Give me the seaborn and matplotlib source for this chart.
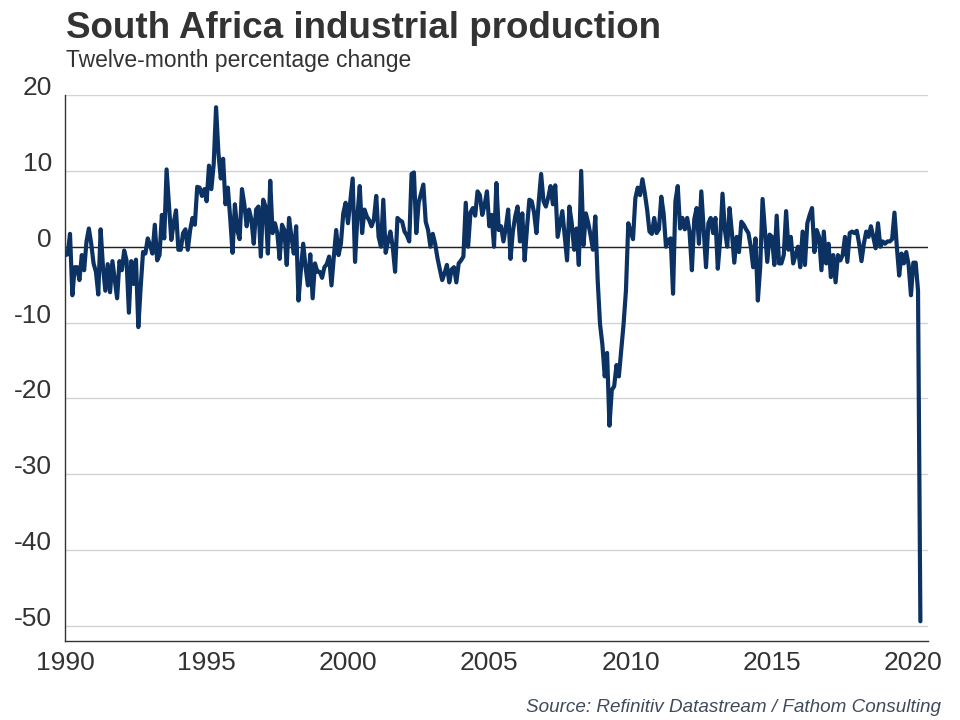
import numpy as np
import pandas as pd
import matplotlib
matplotlib.use("Agg")
import matplotlib.pyplot as plt
from matplotlib.ticker import MultipleLocator, FuncFormatter
import seaborn as sns

# Monthly twelve-month % change, South Africa industrial production
ip_1990s = [
    -1.1, -1.0, 1.7, -6.4, -2.7, -2.7, -4.4, -1.1, -3.1, 0.7, 2.4, 0.4,
    -2.2, -3.3, -6.3, 2.3, -2.7, -5.8, -2.3, -6.0, -1.9, -4.4, -6.8, -1.9,
    -3.1, -0.5, -1.8, -8.7, -1.9, -4.9, -1.7, -10.6, -5.3, -0.7, -0.9, 1.1,
    0.2, -0.9, 2.9, -1.8, -1.1, 4.2, 1.1, 10.2, 5.6, 0.9, 3.1, 4.8,
    -0.4, -0.4, 1.8, 2.3, -0.4, 2.2, 3.8, 2.9, 7.9, 7.8, 6.7, 7.6,
    6.0, 10.7, 7.6, 10.9, 18.4, 12.4, 9.0, 11.6, 5.6, 7.8, 3.8, -0.8,
    5.6, 2.2, 1.0, 7.6, 5.6, 2.7, 4.9, 3.6, 0.4, 4.9, 5.3, -1.3,
    6.2, 5.3, -0.9, 8.7, 1.8, 3.1, 1.8, -1.6, 2.9, 2.2, -2.4, 3.8,
    1.3, -0.9, 2.7, -7.1, -3.1, 0.4, -2.7, -5.1, -1.0, -6.8, -2.2, -3.3,
    -3.3, -4.1, -2.7, -2.3, -1.3, -5.1, -1.3, 2.2, -1.1, 0.4, 4.4, 5.8,
]
ip_2000s = [
    3.1, 6.0, 9.0, -2.0, 4.0, 8.0, 1.8, 4.9, 4.0, 3.5, 2.7, 3.6,
    6.7, 1.3, 0.0, 6.2, -0.8, 0.7, 2.0, 0.0, -3.3, 3.8, 3.5, 3.3,
    2.0, 1.5, 0.7, 9.6, 9.8, 1.8, 5.8, 7.0, 8.2, 3.3, 2.2, 0.0,
    1.7, 0.4, -1.5, -3.0, -4.4, -3.5, -2.4, -4.7, -3.0, -2.7, -4.7, -2.2,
    -1.8, -1.3, 5.8, 0.0, 4.5, 5.1, 4.1, 7.3, 6.8, 4.2, 5.5, 7.3,
    2.7, 4.2, 0.0, 8.4, 2.2, 2.7, 0.7, 2.5, 4.9, -1.6, 2.0, 4.0,
    5.3, 0.7, 4.4, -1.8, 2.5, 6.2, 6.0, 4.5, 1.8, 6.0, 9.6, 6.0,
    5.3, 6.5, 8.0, 5.6, 8.1, 1.3, 3.0, 4.7, 1.5, -1.8, 5.3, 3.1,
    -0.4, 2.4, -2.4, 10.0, 0.2, 4.4, 3.1, 1.5, -0.4, 4.0, -4.4, -10.2,
    -12.9, -17.1, -14.0, -23.6, -18.9, -18.4, -15.6, -17.1, -13.6, -10.2, -5.8, 3.1,
]
ip_2010s = [
    2.0, 1.0, 6.4, 7.8, 6.8, 8.9, 7.1, 4.9, 2.0, 1.7, 3.8, 1.8,
    2.3, 6.6, 4.4, 0.0, 0.9, 1.1, -6.2, 6.0, 8.0, 2.4, 3.8, 2.3,
    3.8, 2.0, -3.1, 3.6, 5.1, 0.4, 7.3, 2.2, -2.7, 3.1, 3.8, 1.8,
    3.8, -2.9, 0.9, 7.0, 2.2, 0.0, 5.1, 1.8, -2.1, 1.3, -0.7, 3.3,
    2.9, 2.3, 1.8, 0.0, -2.7, 1.1, -7.1, -2.7, 6.3, 2.2, -2.0, 1.6,
    1.3, -2.4, 4.1, -2.2, -2.2, -1.1, 4.7, -0.4, 1.3, -2.2, -1.1, 0.0,
    -2.7, 2.0, -2.4, 3.1, 4.2, 5.1, -0.7, 2.2, 1.3, -3.1, 2.0, -2.2,
    0.4, -4.0, -1.1, -4.7, -1.1, -1.8, -1.1, 1.3, -2.0, 1.8, 2.0, 1.8,
    2.1, 0.4, -1.9, 0.4, 2.0, 1.3, 2.7, 1.3, -0.2, 3.1, 0.0, 0.7,
    0.4, 0.7, 0.7, 1.0, 4.5, 0.0, -3.8, -0.9, -2.2, -0.7, -2.4, -6.4,
]
ip_2020 = [-2.1, -2.1, -5.8, -49.4]

values = ip_1990s + ip_2000s + ip_2010s + ip_2020
dates = pd.date_range("1990-01-01", periods=len(values), freq="MS")
df = pd.DataFrame({"date": dates, "value": values})
df["t"] = df["date"].dt.year + (df["date"].dt.month - 1) / 12.0

title = "South Africa industrial production"
subtitle = "Twelve-month percentage change"
source = "Source: Refinitiv Datastream / Fathom Consulting"

sns.set_theme(style="white")
plt.rcParams["font.family"] = ["Liberation Sans", "DejaVu Sans"]

W, H = 960, 720
fig = plt.figure(figsize=(9.6, 7.2), dpi=100)
left, right, top, bottom = 65.3, 928.3, 95.1, 641.0
ax = fig.add_axes([left / W, 1 - bottom / H, (right - left) / W, (bottom - top) / H])

sns.lineplot(data=df, x="t", y="value", ax=ax, color="#0b3262", linewidth=3.0, zorder=3)

ax.set_xlim(1990, 2020.53)
ax.set_ylim(-52, 20)
ax.set_xlabel("")
ax.set_ylabel("")

ax.yaxis.set_major_locator(MultipleLocator(10))
ax.yaxis.set_minor_locator(MultipleLocator(2))
ax.xaxis.set_major_locator(MultipleLocator(5))
ax.xaxis.set_minor_locator(MultipleLocator(1))
ax.xaxis.set_major_formatter(FuncFormatter(lambda v, p: f"{int(round(v))}"))
ax.yaxis.set_major_formatter(FuncFormatter(lambda v, p: f"{int(round(v))}"))

ax.grid(axis="y", which="major", color="#d3d3d3", linewidth=1.0, zorder=0)
ax.grid(axis="x", visible=False)
ax.axhline(0, color="#222222", linewidth=1.0, zorder=2)

for s in ["top", "right"]:
    ax.spines[s].set_visible(False)
for s in ["left", "bottom"]:
    ax.spines[s].set_color("#333333")
    ax.spines[s].set_linewidth(1.0)

ax.tick_params(axis="both", which="major", direction="out", length=4.5, width=1.0,
               color="#333333", labelsize=19, labelcolor="#333333")
ax.tick_params(axis="both", which="minor", direction="out", length=2.5, width=0.8,
               color="#333333")
ax.tick_params(axis="y", which="major", pad=5)
ax.tick_params(axis="x", which="major", pad=3)

# y tick labels sit on their gridlines, as in the reference
for tick in ax.yaxis.get_major_ticks():
    tick.label1.set_verticalalignment("baseline")

fig.text(66 / W, 1 - 37.5 / H, title, fontsize=26.5, fontweight="bold", color="#333333",
         ha="left", va="baseline")
fig.text(66 / W, 1 - 67.5 / H, subtitle, fontsize=16.5, color="#333333",
         ha="left", va="baseline")
fig.text(941 / W, 1 - 712 / H, source, fontsize=13.6, style="italic", color="#3f4a5c",
         ha="right", va="baseline")

fig.savefig("out.png", dpi=100)
